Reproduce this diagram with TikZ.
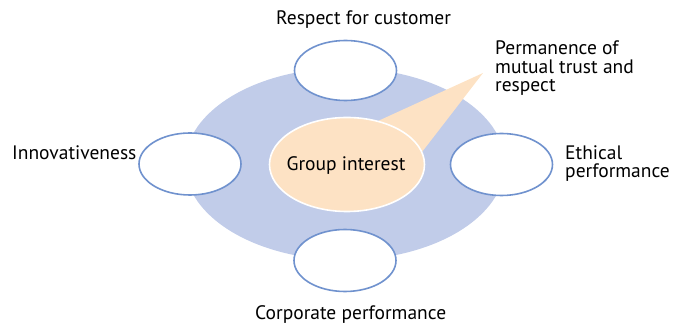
\documentclass[tikz,border=0pt]{standalone}
\usepackage{fontspec}
\setmainfont{PT Sans}
\usetikzlibrary{shapes.geometric}
\definecolor{ringblue}{RGB}{193,204,233}
\definecolor{edgeblue}{RGB}{112,146,206}
\definecolor{peach}{RGB}{253,226,196}
\tikzset{
  value/.style={ellipse, draw=edgeblue, line width=1.6pt, fill=white, inner sep=0pt},
  lbl/.style={inner sep=0pt, font=\fontsize{19.5}{18.5}\selectfont, text=black},
}
\begin{document}
\begin{tikzpicture}[x=1pt,y=-1pt]
\useasboundingbox (0,0) rectangle (683,328);
% background ring
\node[ellipse, fill=ringblue, minimum width=320pt, minimum height=192pt, inner sep=0pt] (ring) at (345,164) {};
% callout wedge
\coordinate (tip) at (483,73);
\fill[peach] (tip) -- (378,121) -- (347,164) -- (422,152) -- cycle;
% centre
\node[ellipse, fill=peach, draw=white, line width=1.6pt, minimum width=155pt, minimum height=94pt, inner sep=0pt] (core) at (347,164.5) {};
\node[lbl, anchor=base] (lcore) at (346,171) {Group interest};
% value ellipses
\node[value, minimum width=102pt, minimum height=60pt] (top) at (345.5,70.5) {};
\node[value, minimum width=102pt, minimum height=62pt] (bottom) at (345,260.5) {};
\node[value, minimum width=102pt, minimum height=62pt] (left) at (190,164) {};
\node[value, minimum width=102pt, minimum height=62pt] (right) at (501.5,164.5) {};
% labels
\node[lbl, anchor=base west] (ltop) at (276,25) {Respect for customer};
\node[lbl, anchor=base west] (lbottom) at (255,320) {Corporate performance};
\node[lbl, anchor=base west] (lleft) at (12,160) {Innovativeness};
\node[lbl, anchor=base west, align=left] (lright) at (565,178) {Ethical\\performance};
\node[lbl, anchor=base west, align=left] (lcall) at (495,92) {Permanence of\\mutual trust and\\respect};
\end{tikzpicture}
\end{document}
